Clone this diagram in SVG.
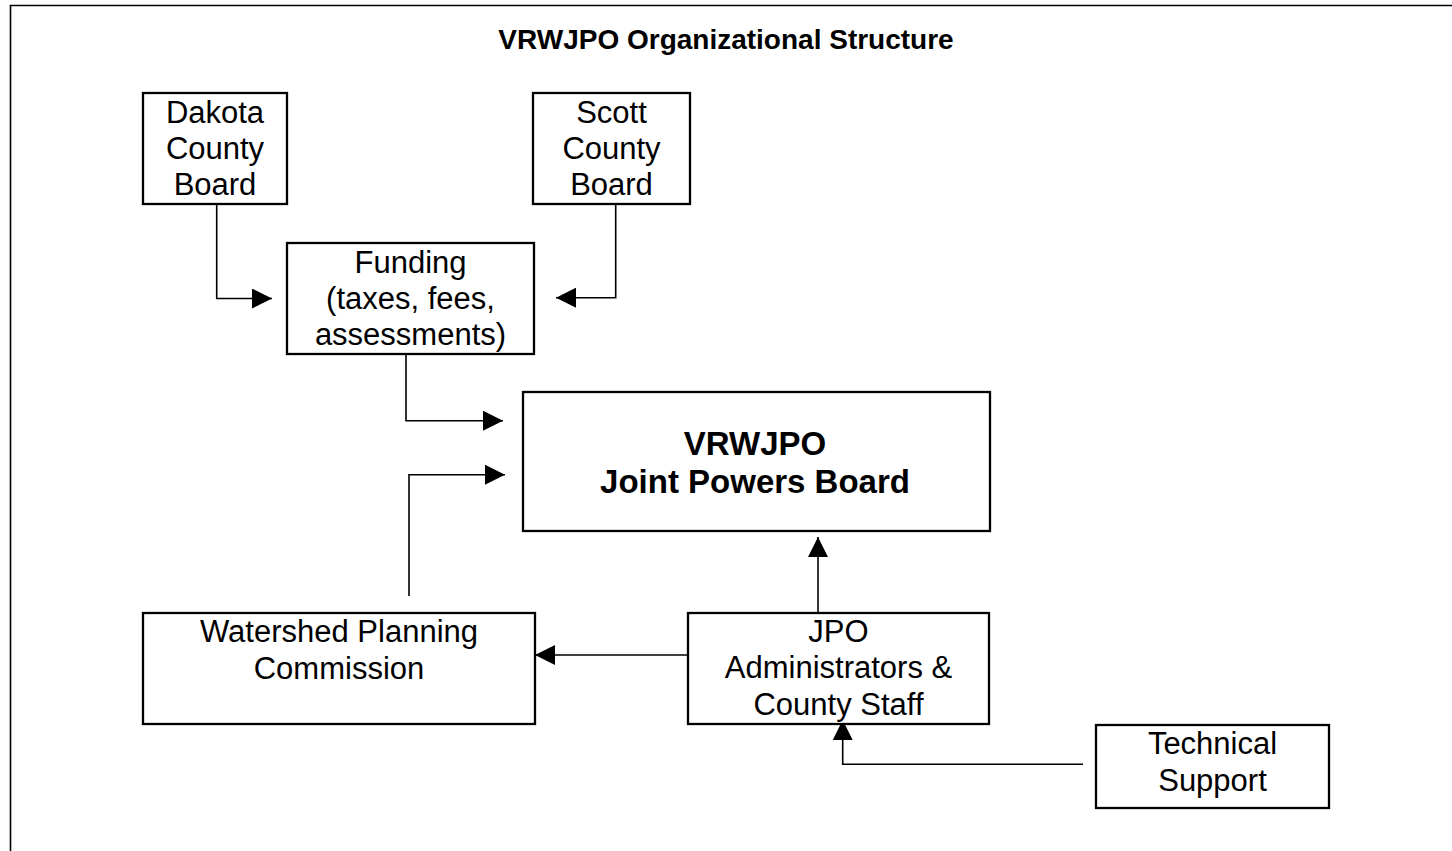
<svg xmlns="http://www.w3.org/2000/svg" width="1452" height="851" viewBox="0 0 1452 851">
  <style>
    .box { fill: #ffffff; stroke: #000000; stroke-width: 2.3; }
    .frame { fill: none; stroke: #000000; stroke-width: 1.6; }
    .lbl { font-family: "Liberation Sans", Arial, sans-serif; font-size: 31px; fill: #000000; text-anchor: middle; }
    .bold { font-family: "Liberation Sans", Arial, sans-serif; font-size: 33px; font-weight: bold; fill: #000000; text-anchor: middle; }
    .title { font-family: "Liberation Sans", Arial, sans-serif; font-size: 28px; font-weight: bold; fill: #000000; text-anchor: middle; }
    .conn { fill: none; stroke: #000000; stroke-width: 1.6; }
  </style>
  <defs>
    <marker id="arrow" markerUnits="userSpaceOnUse" markerWidth="20" markerHeight="20" refX="20" refY="10" orient="auto">
      <path d="M0,0 L20,10 L0,20 Z" fill="#000000"/>
    </marker>
  </defs>
  <rect width="1452" height="851" fill="#ffffff"/>
  <path class="frame" d="M10.5,851 V5.5 H1452"/>
  <text class="title" x="726" y="49">VRWJPO Organizational Structure</text>

  <g id="connectors">
    <path class="conn" d="M216.7,204 V298.5 H272" marker-end="url(#arrow)"/>
    <path class="conn" d="M615.7,204 V297.7 H556" marker-end="url(#arrow)"/>
    <path class="conn" d="M406,354 V420.7 H503" marker-end="url(#arrow)"/>
    <path class="conn" d="M409,596 V474.7 H505" marker-end="url(#arrow)"/>
    <path class="conn" d="M818,613 V537" marker-end="url(#arrow)"/>
    <path class="conn" d="M688,655 H535" marker-end="url(#arrow)"/>
    <path class="conn" d="M1083,764.3 H842.7 V720" marker-end="url(#arrow)"/>
  </g>

  <g id="dakota">
    <rect class="box" x="143" y="93" width="144" height="111"/>
    <text class="lbl" x="215" y="123">Dakota</text>
    <text class="lbl" x="215" y="159">County</text>
    <text class="lbl" x="215" y="195">Board</text>
  </g>

  <g id="scott">
    <rect class="box" x="533" y="93" width="157" height="111"/>
    <text class="lbl" x="611.5" y="123">Scott</text>
    <text class="lbl" x="611.5" y="159">County</text>
    <text class="lbl" x="611.5" y="195">Board</text>
  </g>

  <g id="funding">
    <rect class="box" x="287" y="243" width="247" height="111"/>
    <text class="lbl" x="410.5" y="273">Funding</text>
    <text class="lbl" x="410.5" y="309">(taxes, fees,</text>
    <text class="lbl" x="410.5" y="345">assessments)</text>
  </g>

  <g id="jpb">
    <rect class="box" x="523" y="392" width="467" height="139"/>
    <text class="bold" x="755" y="455">VRWJPO</text>
    <text class="bold" x="755" y="493">Joint Powers Board</text>
  </g>

  <g id="wpc">
    <rect class="box" x="143" y="613" width="392" height="111"/>
    <text class="lbl" x="339" y="642">Watershed Planning</text>
    <text class="lbl" x="339" y="679">Commission</text>
  </g>

  <g id="jpo">
    <rect class="box" x="688" y="613" width="301" height="111"/>
    <text class="lbl" x="838.5" y="642">JPO</text>
    <text class="lbl" x="838.5" y="678">Administrators &amp;</text>
    <text class="lbl" x="838.5" y="715">County Staff</text>
  </g>

  <g id="tech">
    <rect class="box" x="1096" y="725" width="233" height="83"/>
    <text class="lbl" x="1212.5" y="754">Technical</text>
    <text class="lbl" x="1212.5" y="791">Support</text>
  </g>
</svg>
